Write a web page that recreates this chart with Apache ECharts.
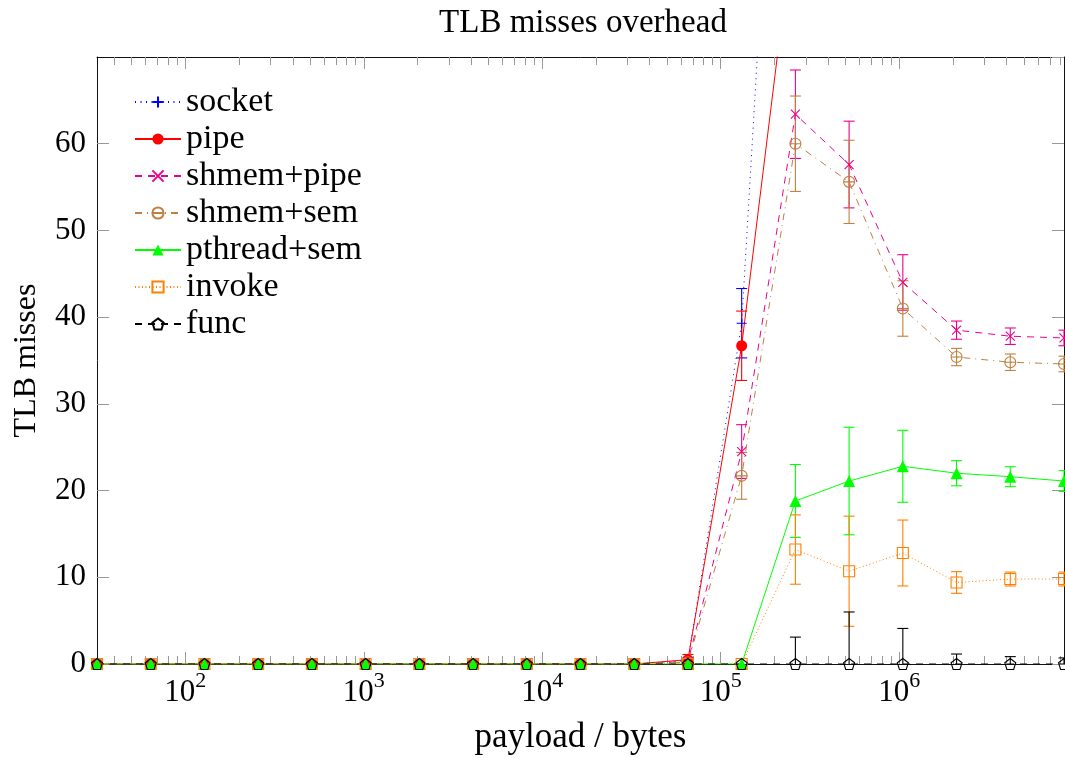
<!DOCTYPE html>
<html>
<head>
<meta charset="utf-8">
<script src="https://cdn.jsdelivr.net/npm/echarts@6/dist/echarts.min.js"></script>
<style>
html,body{margin:0;padding:0;background:#fff;}
#chart{width:1065px;height:758px;}
</style>
</head>
<body>
<div id="chart"></div>
<script>
// ---- data ----
const payload = [32, 64, 128, 256, 512, 1024, 2048, 4096, 8192, 16384, 32768, 65536, 131072, 262144, 524288, 1048576, 2097152, 4194304, 8388608];

const socket     = [0,0,0,0,0,0,0,0,0,0,0, 0.4, 39.3, 145, 150, 140, 135, 130, 128];
const socketErr  = [0,0,0,0,0,0,0,0,0,0,0, 0.3, 4.0, 6, 6, 6, 5, 5, 5];
const pipe       = [0,0,0,0,0,0,0,0,0,0,0, 0.5, 36.7, 87, 95, 90, 88, 86, 85];
const pipeErr    = [0,0,0,0,0,0,0,0,0,0,0, 0.6, 4.0, 5, 5, 5, 4, 4, 4];
const shmemPipe     = [0,0,0,0,0,0,0,0,0,0,0, 0.3, 24.5, 63.4, 57.6, 44.0, 38.5, 37.8, 37.6];
const shmemPipeErr  = [0,0,0,0,0,0,0,0,0,0,0, 0.2, 3.1, 5.1, 5.0, 3.2, 1.05, 0.95, 0.9];
const shmemSem      = [0,0,0,0,0,0,0,0,0,0,0, 0.2, 21.7, 60.0, 55.6, 41.0, 35.4, 34.8, 34.6];
const shmemSemErr   = [0,0,0,0,0,0,0,0,0,0,0, 0.2, 2.7, 5.5, 4.8, 3.2, 1.0, 0.95, 0.9];
const pthreadSem    = [0,0,0,0,0,0,0,0,0,0,0,0,0, 18.8, 21.1, 22.8, 22.0, 21.6, 21.1];
const pthreadSemErr = [0,0,0,0,0,0,0,0,0,0,0,0,0, 4.2, 6.2, 4.15, 1.45, 1.15, 1.2];
const invoke        = [0,0,0,0,0,0,0,0,0,0,0,0,0, 13.2, 10.7, 12.8, 9.4, 9.8, 9.8];
const invokeErr     = [0,0,0,0,0,0,0,0,0,0,0,0,0, 4.0, 6.35, 3.8, 1.25, 0.8, 0.8];
const func          = [0,0,0,0,0,0,0,0,0,0,0,0,0, 0, 0, 0, 0, 0, 0];
const funcErr       = [0,0,0,0,0,0,0,0,0,0,0,0,0, 3.1, 6.0, 4.1, 1.15, 0.85, 0.7];

const xMajorTicks = [100, 1000, 10000, 100000, 1000000];
const xMinorMultiples = [2, 3, 4, 5, 6, 7, 8, 9];
const xMin = 32, xMax = 8388608;
const yMin = 0, yMax = 70, yStep = 10;

const titleText = 'TLB misses overhead';
const xName = 'payload / bytes';
const yName = 'TLB misses';

// ---- styling ----
const FONT = 'Liberation Serif';
const TICK = '#999';
const AXIS = '#111';

const xMinorTicks = [];
[10, 100, 1000, 10000, 100000, 1000000].forEach(p => {
  xMinorMultiples.forEach(m => { const v = m * p; if (v > xMin && v < xMax) xMinorTicks.push(v); });
});

const SYM = {
  plus: 'path://M5,0L5,10M0,5L10,5',
  cross: 'path://M0,0L10,10M10,0L0,10',
  ominus: 'path://M0,5A5,5,0,1,0,10,5A5,5,0,1,0,0,5ZM0,5L10,5',
  pentagon: 'path://M5,0L10,3.63L8.09,9.51L1.91,9.51L0,3.63Z'
};

const defs = [
  {name:'socket', vals:socket, err:socketErr, color:'#0000ff', dash:[1,4.5], symbol:SYM.plus, size:10, hollow:true},
  {name:'pipe', vals:pipe, err:pipeErr, color:'#ff0000', dash:'solid', symbol:'circle', size:11, hollow:false},
  {name:'shmem+pipe', vals:shmemPipe, err:shmemPipeErr, color:'#ec008c', dash:[7,6], symbol:SYM.cross, size:9, hollow:true},
  {name:'shmem+sem', vals:shmemSem, err:shmemSemErr, color:'#bf8040', dash:[7,5,1,5], symbol:SYM.ominus, size:11, hollow:true},
  {name:'pthread+sem', vals:pthreadSem, err:pthreadSemErr, color:'#00ff00', dash:'solid', symbol:'triangle', size:12, hollow:false},
  {name:'invoke', vals:invoke, err:invokeErr, color:'#ff8000', dash:[1,2.5], symbol:'rect', size:11, hollow:true},
  {name:'func', vals:func, err:funcErr, color:'#000000', dash:[7,6], symbol:SYM.pentagon, size:11, hollow:true}
];

function errRender(color) {
  return function (params, api) {
    const x = api.value(0), lo = api.value(1), hi = api.value(2);
    if (!(hi - lo > 0)) return null;
    const pLo = api.coord([x, lo]), pHi = api.coord([x, hi]);
    const cs = params.coordSys;
    const top = cs.y, bot = cs.y + cs.height;
    if (pHi[1] > bot || pLo[1] < top) return null;
    const a = Math.max(pHi[1], top), b = Math.min(pLo[1], bot);
    const st = {stroke: color, lineWidth: 1.1};
    const hw = 5.5;
    const ch = [{type:'line', shape:{x1:pLo[0], y1:a, x2:pLo[0], y2:b}, style:st}];
    if (pHi[1] >= top) ch.push({type:'line', shape:{x1:pHi[0]-hw, y1:pHi[1], x2:pHi[0]+hw, y2:pHi[1]}, style:st});
    if (pLo[1] <= bot) ch.push({type:'line', shape:{x1:pLo[0]-hw, y1:pLo[1], x2:pLo[0]+hw, y2:pLo[1]}, style:st});
    return {type:'group', children: ch};
  };
}

const series = [];
defs.forEach(d => {
  series.push({
    type:'custom', name: d.name + ' err', xAxisIndex:0, yAxisIndex:0,
    renderItem: errRender(d.color), silent:true,
    encode:{x:0, y:[1,2]},
    data: payload.map((x, i) => [x, d.vals[i] - d.err[i], d.vals[i] + d.err[i]])
  });
  series.push({
    type:'line', name:d.name, xAxisIndex:0, yAxisIndex:0,
    data: payload.map((x, i) => [x, d.vals[i]]),
    symbol: d.symbol, symbolSize: d.size, showAllSymbol:true, clip:true,
    lineStyle:{color:d.color, width:1, type:d.dash},
    itemStyle: d.hollow ? {color:'rgba(255,255,255,0)', borderColor:d.color, borderWidth:1.1}
                        : {color:d.color, borderColor:d.color, borderWidth:0},
    emphasis:{disabled:true}, animation:false
  });
});

const labelFmt = v => {
  const e = Math.round(Math.log10(v));
  return '{a|10}{b|' + e + '}';
};

function logAxis(pos, ticks, len, showLabel, showLine) {
  return {
    type:'log', logBase:10, position:pos, min:xMin, max:xMax,
    axisLine:{show:showLine, onZero:false, lineStyle:{color:AXIS, width:1}},
    axisTick:{show:true, inside:true, length:len, customValues:ticks, lineStyle:{color:TICK, width:1}},
    axisLabel:{show:showLabel, customValues:ticks, margin:6, formatter:labelFmt,
      rich:{
        a:{fontFamily:FONT, fontSize:31, color:'#000', lineHeight:38, verticalAlign:'bottom'},
        b:{fontFamily:FONT, fontSize:22, color:'#000', lineHeight:22, verticalAlign:'top'}
      }},
    splitLine:{show:false}, minorTick:{show:false}
  };
}

const xAxes = [
  Object.assign(logAxis('bottom', xMajorTicks, 12, true, true), {
    name:xName, nameLocation:'middle', nameGap:56,
    nameTextStyle:{fontFamily:FONT, fontSize:35, color:'#000'}
  }),
  logAxis('bottom', xMinorTicks, 8, false, false),
  logAxis('top', xMajorTicks, 12, false, true),
  logAxis('top', xMinorTicks, 8, false, false)
];

const yAxes = [
  {type:'value', position:'left', min:yMin, max:yMax, interval:yStep,
   name:yName, nameLocation:'middle', nameGap:54, nameRotate:90,
   nameTextStyle:{fontFamily:FONT, fontSize:32, color:'#000'},
   axisLine:{show:true, onZero:false, lineStyle:{color:AXIS, width:1}},
   axisTick:{show:true, inside:true, length:12, lineStyle:{color:TICK, width:1}},
   axisLabel:{fontFamily:FONT, fontSize:31, color:'#000', margin:11, showMaxLabel:false},
   splitLine:{show:false}},
  {type:'value', position:'right', min:yMin, max:yMax, interval:yStep,
   axisLine:{show:true, onZero:false, lineStyle:{color:AXIS, width:1}},
   axisTick:{show:true, inside:true, length:12, lineStyle:{color:TICK, width:1}},
   axisLabel:{show:false}, splitLine:{show:false}}
];

const chart = echarts.init(document.getElementById('chart'), null, {renderer:'canvas'});
chart.setOption({
  animation:false,
  backgroundColor:'#fff',
  textStyle:{fontFamily:FONT},
  title:{text:titleText, left:578, top:2, textAlign:'center',
    textStyle:{fontFamily:FONT, fontSize:33, fontWeight:'normal', color:'#000'}},
  legend:{
    data: defs.map(d => d.name), orient:'vertical', left:134, top:85, padding:0,
    itemWidth:46, itemHeight:14, itemGap:3, selectedMode:false,
    textStyle:{fontFamily:FONT, fontSize:34, color:'#000', lineHeight:32}
  },
  grid:{left:97, right:1, top:57, bottom:94, containLabel:false, outerBoundsMode:'none'},
  xAxis:xAxes,
  yAxis:yAxes,
  series:series
});
</script>
</body>
</html>
